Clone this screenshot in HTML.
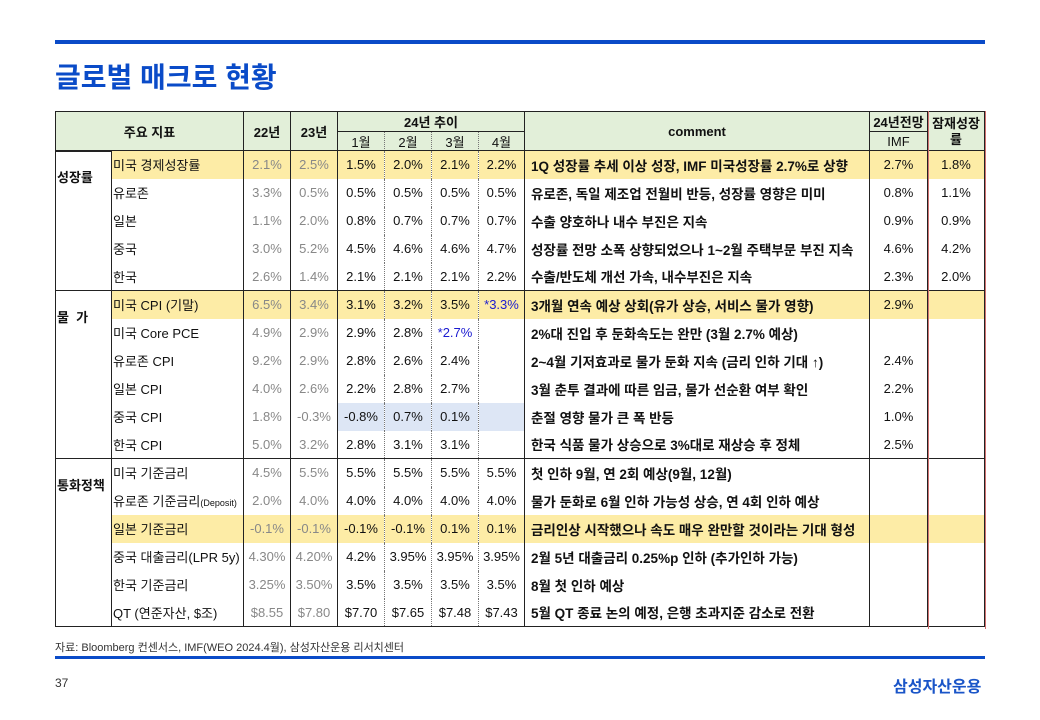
<!DOCTYPE html>
<html><head><meta charset="utf-8"><style>
*{margin:0;padding:0;box-sizing:border-box}
body{width:1040px;height:720px;background:#fff;position:relative;overflow:hidden;font-family:"Liberation Sans","Noto Sans CJK KR","NanumGothic",sans-serif;color:#111}
.abs{position:absolute}
table{position:absolute;left:55px;top:111px;border-collapse:collapse;table-layout:fixed;font-size:13px}
td{height:28px;padding:0;white-space:nowrap;overflow:hidden;text-align:center;vertical-align:middle}
th{font-weight:bold;background:#e2efd9;font-size:13px;border:1px solid #222}
.l{text-align:left;padding-left:1px}
.g{color:#888}
.c{text-align:left;padding-left:6px;font-weight:bold;font-size:13.5px}
.sec td{border-top:1.5px solid #222}
.m{border-left:1px dotted #777}
.y td.yy{background:#fdeca6}
.b{color:#1a1ad0}
.lb{background:#dde6f5}
.v1{border-left:1.5px solid #222}
</style></head><body>
<div class="abs" style="left:55px;top:40px;width:930px;height:4px;background:#0a4bc8"></div>
<div class="abs" style="left:55px;top:56px;font-size:28px;color:#0a4bc8;font-weight:bold">글로벌 매크로 현황</div>

<table>
<colgroup><col style="width:56px"><col style="width:132px"><col style="width:47px"><col style="width:47px"><col style="width:47px"><col style="width:47px"><col style="width:47px"><col style="width:46px"><col style="width:345px"><col style="width:58px"><col style="width:57px"></colgroup>
<tr style="height:20px"><th colspan="2" rowspan="2">주요 지표</th><th rowspan="2">22년</th><th rowspan="2">23년</th><th colspan="4" style="border-bottom:1px dotted #777">24년 추이</th><th rowspan="2">comment</th><th style="border-bottom:1px dotted #777">24년전망</th><th rowspan="2" style="line-height:16px">잠재성장<br>률</th></tr>
<tr style="height:19px"><th style="font-weight:normal;border-right:1px dotted #777">1월</th><th style="font-weight:normal;border-left:1px dotted #777;border-right:1px dotted #777">2월</th><th style="font-weight:normal;border-left:1px dotted #777;border-right:1px dotted #777">3월</th><th style="font-weight:normal;border-left:1px dotted #777">4월</th><th style="font-weight:normal">IMF</th></tr>
</table>

<table style="top:150px;border-left:1.5px solid #222;border-right:1.5px solid #222;border-bottom:1.5px solid #222">
<colgroup><col style="width:56px"><col style="width:132px"><col style="width:47px"><col style="width:47px"><col style="width:47px"><col style="width:47px"><col style="width:47px"><col style="width:46px"><col style="width:345px"><col style="width:58px"><col style="width:57px"></colgroup>
<tbody style="font-size:13px">
<tr class="y sec"><td rowspan="5" class="l" style="vertical-align:top;padding-top:16px;font-weight:bold">성장률</td><td class="l yy v1">미국 경제성장률</td><td class="g yy v1">2.1%</td><td class="g yy v1">2.5%</td><td class="yy v1">1.5%</td><td class="yy m">2.0%</td><td class="yy m">2.1%</td><td class="yy m">2.2%</td><td class="c yy v1">1Q 성장률 추세 이상 성장, IMF 미국성장률 2.7%로 상향</td><td class="yy v1">2.7%</td><td class="yy v1">1.8%</td></tr>
<tr><td class="l v1">유로존</td><td class="g v1">3.3%</td><td class="g v1">0.5%</td><td class="v1">0.5%</td><td class="m">0.5%</td><td class="m">0.5%</td><td class="m">0.5%</td><td class="c v1">유로존, 독일 제조업 전월비 반등, 성장률 영향은 미미</td><td class="v1">0.8%</td><td class="v1">1.1%</td></tr>
<tr><td class="l v1">일본</td><td class="g v1">1.1%</td><td class="g v1">2.0%</td><td class="v1">0.8%</td><td class="m">0.7%</td><td class="m">0.7%</td><td class="m">0.7%</td><td class="c v1">수출 양호하나 내수 부진은 지속</td><td class="v1">0.9%</td><td class="v1">0.9%</td></tr>
<tr><td class="l v1">중국</td><td class="g v1">3.0%</td><td class="g v1">5.2%</td><td class="v1">4.5%</td><td class="m">4.6%</td><td class="m">4.6%</td><td class="m">4.7%</td><td class="c v1">성장률 전망 소폭 상향되었으나 1~2월 주택부문 부진 지속</td><td class="v1">4.6%</td><td class="v1">4.2%</td></tr>
<tr><td class="l v1">한국</td><td class="g v1">2.6%</td><td class="g v1">1.4%</td><td class="v1">2.1%</td><td class="m">2.1%</td><td class="m">2.1%</td><td class="m">2.2%</td><td class="c v1">수출/반도체 개선 가속, 내수부진은 지속</td><td class="v1">2.3%</td><td class="v1">2.0%</td></tr>

<tr class="y sec"><td rowspan="6" class="l" style="vertical-align:top;padding-top:16px;font-weight:bold">물 &nbsp;가</td><td class="l yy v1">미국 CPI (기말)</td><td class="g yy v1">6.5%</td><td class="g yy v1">3.4%</td><td class="yy v1">3.1%</td><td class="yy m">3.2%</td><td class="yy m">3.5%</td><td class="yy m b">*3.3%</td><td class="c yy v1">3개월 연속 예상 상회(유가 상승, 서비스 물가 영향)</td><td class="yy v1">2.9%</td><td class="yy v1"></td></tr>
<tr><td class="l v1">미국 Core PCE</td><td class="g v1">4.9%</td><td class="g v1">2.9%</td><td class="v1">2.9%</td><td class="m">2.8%</td><td class="m b">*2.7%</td><td class="m"></td><td class="c v1">2%대 진입 후 둔화속도는 완만 (3월 2.7% 예상)</td><td class="v1"></td><td class="v1"></td></tr>
<tr><td class="l v1">유로존 CPI</td><td class="g v1">9.2%</td><td class="g v1">2.9%</td><td class="v1">2.8%</td><td class="m">2.6%</td><td class="m">2.4%</td><td class="m"></td><td class="c v1">2~4월 기저효과로 물가 둔화 지속 (금리 인하 기대 ↑)</td><td class="v1">2.4%</td><td class="v1"></td></tr>
<tr><td class="l v1">일본 CPI</td><td class="g v1">4.0%</td><td class="g v1">2.6%</td><td class="v1">2.2%</td><td class="m">2.8%</td><td class="m">2.7%</td><td class="m"></td><td class="c v1">3월 춘투 결과에 따른 임금, 물가 선순환 여부 확인</td><td class="v1">2.2%</td><td class="v1"></td></tr>
<tr><td class="l v1">중국 CPI</td><td class="g v1">1.8%</td><td class="g v1">-0.3%</td><td class="v1 lb">-0.8%</td><td class="m lb">0.7%</td><td class="m lb">0.1%</td><td class="m lb"></td><td class="c v1">춘절 영향 물가 큰 폭 반등</td><td class="v1">1.0%</td><td class="v1"></td></tr>
<tr><td class="l v1">한국 CPI</td><td class="g v1">5.0%</td><td class="g v1">3.2%</td><td class="v1">2.8%</td><td class="m">3.1%</td><td class="m">3.1%</td><td class="m"></td><td class="c v1">한국 식품 물가 상승으로 3%대로 재상승 후 정체</td><td class="v1">2.5%</td><td class="v1"></td></tr>

<tr class="sec"><td rowspan="6" class="l" style="vertical-align:top;padding-top:16px;font-weight:bold">통화정책</td><td class="l v1">미국 기준금리</td><td class="g v1">4.5%</td><td class="g v1">5.5%</td><td class="v1">5.5%</td><td class="m">5.5%</td><td class="m">5.5%</td><td class="m">5.5%</td><td class="c v1">첫 인하 9월, 연 2회 예상(9월, 12월)</td><td class="v1"></td><td class="v1"></td></tr>
<tr><td class="l v1">유로존 기준금리<span style="font-size:9px">(Deposit)</span></td><td class="g v1">2.0%</td><td class="g v1">4.0%</td><td class="v1">4.0%</td><td class="m">4.0%</td><td class="m">4.0%</td><td class="m">4.0%</td><td class="c v1">물가 둔화로 6월 인하 가능성 상승, 연 4회 인하 예상</td><td class="v1"></td><td class="v1"></td></tr>
<tr class="y"><td class="l yy v1">일본 기준금리</td><td class="g yy v1">-0.1%</td><td class="g yy v1">-0.1%</td><td class="yy v1">-0.1%</td><td class="yy m">-0.1%</td><td class="yy m">0.1%</td><td class="yy m">0.1%</td><td class="c yy v1">금리인상 시작했으나 속도 매우 완만할 것이라는 기대 형성</td><td class="yy v1"></td><td class="yy v1"></td></tr>
<tr><td class="l v1">중국 대출금리(LPR 5y)</td><td class="g v1">4.30%</td><td class="g v1">4.20%</td><td class="v1">4.2%</td><td class="m">3.95%</td><td class="m">3.95%</td><td class="m">3.95%</td><td class="c v1">2월 5년 대출금리 0.25%p 인하 (추가인하 가능)</td><td class="v1"></td><td class="v1"></td></tr>
<tr><td class="l v1">한국 기준금리</td><td class="g v1">3.25%</td><td class="g v1">3.50%</td><td class="v1">3.5%</td><td class="m">3.5%</td><td class="m">3.5%</td><td class="m">3.5%</td><td class="c v1">8월 첫 인하 예상</td><td class="v1"></td><td class="v1"></td></tr>
<tr><td class="l v1">QT (연준자산, $조)</td><td class="g v1">$8.55</td><td class="g v1">$7.80</td><td class="v1">$7.70</td><td class="m">$7.65</td><td class="m">$7.48</td><td class="m">$7.43</td><td class="c v1">5월 QT 종료 논의 예정, 은행 초과지준 감소로 전환</td><td class="v1"></td><td class="v1"></td></tr>
</tbody></table>

<div class="abs" style="left:928px;top:111px;width:58px;height:518px;border-left:1.5px solid #d07070;border-right:1.5px solid #d07070"></div>

<div class="abs" style="left:55px;top:639px;font-size:11px;color:#333">자료: Bloomberg 컨센서스, IMF(WEO 2024.4월), 삼성자산운용 리서치센터</div>
<div class="abs" style="left:55px;top:656px;width:930px;height:3px;background:#0a4bc8"></div>
<div class="abs" style="left:55px;top:676px;font-size:12px;color:#333">37</div>
<div class="abs" style="left:893px;top:673px;font-size:16px;color:#1a55c8;font-weight:bold">삼성자산운용</div>
</body></html>
